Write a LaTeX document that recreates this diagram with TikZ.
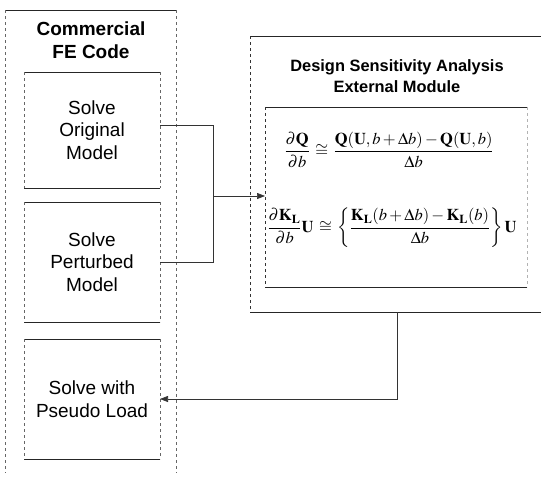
\documentclass[tikz,border=0pt]{standalone}
\usepackage{amsmath}
\usepackage{mathptmx}
\usepackage[no-math]{fontspec}
\setmainfont{Liberation Sans}
\usetikzlibrary{arrows.meta}
\begin{document}
\begin{tikzpicture}[x=1pt,y=-1pt,
  boxarea/.style={draw=none,inner sep=0pt,outer sep=0pt,align=center,
    font=\fontsize{19}{22.5}\selectfont},
  hline/.style={line width=0.8pt,black!85},
  vline/.style={line width=0.6pt,black!60,dash pattern=on 2.5pt off 3.5pt},
  conn/.style={line width=0.7pt,black!80},
  arr/.style={conn,-{Triangle[length=8pt,width=6pt]}},
  titlef/.style={align=center,inner sep=0pt,font=\bfseries\fontsize{19}{23}\selectfont},
  dsaf/.style={align=center,inner sep=0pt,font=\bfseries\fontsize{16.4}{20.5}\selectfont},
  mathf/.style={inner sep=0pt,font=\fontsize{16.5}{19}\selectfont}
]
\useasboundingbox (0,0) rectangle (542,479);

% Commercial FE code frame
\node[boxarea,minimum width=171pt,minimum height=463pt] (fe) at (90.5,241.5) {};
\draw[hline] (fe.north west) -- (fe.north east);
\draw[vline] (fe.north west) -- (fe.south west);
\draw[vline] (fe.north east) -- (fe.south east);
\node[titlef] (fet) at (91,40.5) {Commercial\\FE Code};

% inner boxes
\node[boxarea,minimum width=136pt,minimum height=116pt] (b1) at (92,130) {Solve\\Original\\Model};
\node[boxarea,minimum width=136pt,minimum height=120pt] (b2) at (92,262) {Solve\\Perturbed\\Model};
\node[boxarea,minimum width=136pt,minimum height=120pt] (b3) at (92,399) {Solve with\\Pseudo Load};
\foreach \b in {b1,b2,b3}{
  \draw[hline] (\b.north west) -- (\b.north east);
  \draw[hline] (\b.south west) -- (\b.south east);
  \draw[vline] (\b.north west) -- (\b.south west);
  \draw[vline] (\b.north east) -- (\b.south east);
}

% DSA module frame
\node[boxarea,minimum width=291pt,minimum height=276pt] (dsa) at (395.5,174) {};
\draw[hline] (dsa.north west) -- (dsa.north east);
\draw[vline,black!80] (dsa.north west) -- (dsa.south west);
\draw[hline] (dsa.south west) -- (dsa.south east);
\node[dsaf] (dsat) at (397,76) {Design Sensitivity Analysis\\External Module};

% formula box
\node[boxarea,minimum width=262pt,minimum height=180pt] (fb) at (396,197) {};
\draw[hline] (fb.north west) -- (fb.north east);
\draw[hline] (fb.south west) -- (fb.south east);
\draw[vline,black!80] (fb.north west) -- (fb.south west);
\draw[vline,black!30] (fb.north east) -- (fb.south east);

\node[mathf] (f1) at (389,150)
 {$\dfrac{\partial\mathbf{Q}}{\partial b}\,\cong\,\dfrac{\mathbf{Q}(\mathbf{U},b+\Delta b)-\mathbf{Q}(\mathbf{U},b)}{\Delta b}$};
\node[mathf] (f2) at (392,228)
 {$\dfrac{\partial\mathbf{K}_{\mathbf{L}}}{\partial b}\mathbf{U}\,\cong\,\left\{\dfrac{\mathbf{K}_{\mathbf{L}}(b+\Delta b)-\mathbf{K}_{\mathbf{L}}(b)}{\Delta b}\right\}\mathbf{U}$};

% connectors
\coordinate (j) at (213,196);
\coordinate (d0) at ([xshift=1.5pt]dsa.south);
\draw[conn] ([yshift=5pt]b1.east) -| (j);
\draw[conn] (b2.east) -| (j);
\draw[arr] (j) -- (j -| fb.west);
\draw[arr] (d0) |- (b3.east);
\end{tikzpicture}
\end{document}
